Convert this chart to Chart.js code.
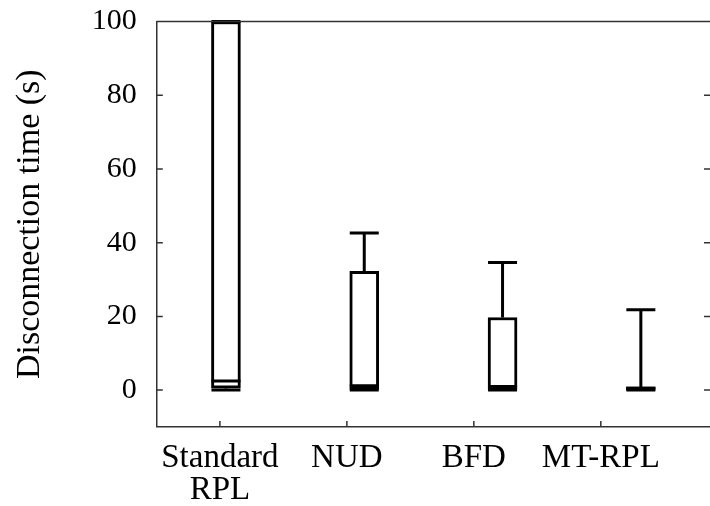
<!DOCTYPE html>
<html>
<head>
<meta charset="utf-8">
<script src="https://cdn.jsdelivr.net/npm/chart.js@4.4.1/dist/chart.umd.min.js"></script>
<style>
  html, body { margin: 0; padding: 0; background: #fff; }
  #wrap { width: 710px; height: 506px; }
</style>
</head>
<body>
<div id="wrap"><canvas id="boxChart"></canvas></div>
<script>
// categories and box statistics (seconds)
const categories = [['Standard', 'RPL'], 'NUD', 'BFD', 'MT-RPL'];
const whiskerMin = [0, 0, 0, 0];
const q1 = [0.5, 0.2, 0.2, 0];
const median = [2.5, 1.2, 1.0, 0.5];
const q3 = [100, 32.2, 19.7, 0.9];
const whiskerMax = [100, 42.6, 34.6, 21.8];
const yTicks = [0, 20, 40, 60, 80, 100];

const fontFamily = '"Liberation Serif", "DejaVu Serif", serif';

// whiskers, caps, medians and the gnuplot-style frame with inward ticks
const boxExtras = {
    id: 'boxExtras',
    afterDatasetsDraw(chart) {
        const ctx = chart.ctx;
        const xs = chart.scales.x;
        const ys = chart.scales.y;
        const area = chart.chartArea;
        const half = 14.5;
        ctx.save();
        ctx.beginPath();
        ctx.rect(area.left - 2, area.top - 2, area.right - area.left + 4, area.bottom - area.top + 4);
        ctx.clip();
        ctx.strokeStyle = '#000';
        ctx.lineWidth = 3;
        for (let i = 0; i < categories.length; i++) {
            const cx = xs.getPixelForValue(i);
            const yMin = ys.getPixelForValue(whiskerMin[i]);
            const yQ1 = ys.getPixelForValue(q1[i]);
            const yMed = ys.getPixelForValue(median[i]);
            const yQ3 = ys.getPixelForValue(q3[i]);
            const yMax = ys.getPixelForValue(whiskerMax[i]);
            ctx.beginPath();
            ctx.moveTo(cx, yQ3); ctx.lineTo(cx, yMax);
            ctx.moveTo(cx, yQ1); ctx.lineTo(cx, yMin);
            ctx.moveTo(cx - half, yMax); ctx.lineTo(cx + half, yMax);
            ctx.moveTo(cx - half, yMin); ctx.lineTo(cx + half, yMin);
            ctx.moveTo(cx - half, yMed); ctx.lineTo(cx + half, yMed);
            ctx.stroke();
        }
        ctx.restore();

        // frame bits chart.js does not draw
        ctx.save();
        ctx.strokeStyle = '#333';
        ctx.lineWidth = 1.5;
        ctx.beginPath();
        ctx.moveTo(area.left, area.top); ctx.lineTo(area.right, area.top);
        yTicks.forEach(function(v) {
            const py = ys.getPixelForValue(v);
            ctx.moveTo(area.left, py); ctx.lineTo(area.left + 6, py);
            ctx.moveTo(area.right, py); ctx.lineTo(area.right - 6, py);
        });
        const xt = chart.scales.xt;
        categories.forEach(function(c, i) {
            const px = xt.getPixelForValue(i);
            ctx.moveTo(px, area.bottom); ctx.lineTo(px, area.bottom - 6);
        });
        ctx.stroke();
        ctx.restore();
    }
};

const ctx = document.getElementById('boxChart');
new Chart(ctx, {
    type: 'bar',
    data: {
        labels: categories.map(function(c, i) { return i; }),
        datasets: [{
            label: 'Disconnection time',
            data: q1.map(function(v, i) { return [v, q3[i]]; }),
            backgroundColor: '#fff',
            borderColor: '#000',
            borderWidth: 3,
            borderSkipped: false,
            barThickness: 29
        }]
    },
    options: {
        responsive: true,
        maintainAspectRatio: false,
        animation: false,
        layout: { padding: { top: 0, right: 0, bottom: -15, left: 10 } },
        plugins: {
            legend: { display: false },
            tooltip: { enabled: false }
        },
        scales: {
            x: {
                type: 'category',
                display: false,
                offset: true
            },
            xt: {
                type: 'linear',
                position: 'bottom',
                offset: false,
                min: -0.497,
                max: 3.86,
                afterBuildTicks: function(scale) {
                    scale.ticks = categories.map(function(c, i) { return { value: i }; });
                },
                ticks: {
                    autoSkip: false,
                    maxRotation: 0,
                    padding: 15,
                    color: '#000',
                    font: { family: fontFamily, size: 33, lineHeight: 0.97 },
                    callback: function(v) { return categories[v]; }
                },
                grid: { display: false, drawTicks: false, offset: false },
                border: { display: true, color: '#333', width: 1.5 }
            },
            y: {
                min: -10,
                max: 100,
                afterBuildTicks: function(scale) {
                    scale.ticks = yTicks.map(function(v) { return { value: v }; });
                },
                ticks: {
                    padding: 20,
                    color: '#000',
                    font: { family: fontFamily, size: 30, lineHeight: 0.1 }
                },
                grid: { display: false, drawTicks: false },
                border: { display: true, color: '#333', width: 1.5 },
                title: {
                    display: true,
                    text: 'Disconnection time (s)',
                    color: '#000',
                    font: { family: fontFamily, size: 34, lineHeight: 1.2 },
                    padding: { top: 0, bottom: 21 }
                }
            }
        }
    },
    plugins: [boxExtras]
});
</script>
</body>
</html>
